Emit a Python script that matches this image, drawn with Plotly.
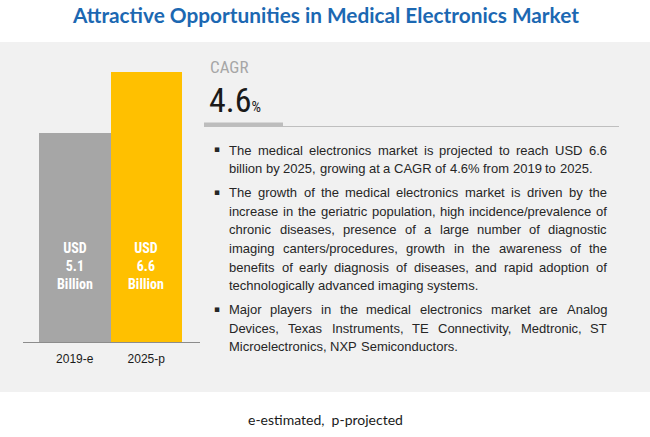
import plotly.graph_objects as go

# ---------------- data ----------------
categories = ["2019-e", "2025-p"]
values = [5.1, 6.6]
value_labels = ["USD<br>5.1<br>Billion", "USD<br>6.6<br>Billion"]
bar_colors = ["#A6A6A6", "#FFC000"]
cagr_value = "4.6"

title_text = "Attractive Opportunities in Medical Electronics Market"
footer_text = "e-estimated,  p-projected"

paragraphs = [
    ["The medical electronics market is projected to reach USD 6.6",
     "billion by 2025, growing at a CAGR of 4.6% from 2019 to 2025."],
    ["The growth of the medical electronics market is driven by the",
     "increase in the geriatric population, high incidence/prevalence of",
     "chronic diseases, presence of a large number of diagnostic",
     "imaging canters/procedures, growth in the awareness of the",
     "benefits of early diagnosis of diseases, and rapid adoption of",
     "technologically advanced imaging systems."],
    ["Major players in the medical electronics market are Analog",
     "Devices, Texas Instruments, TE Connectivity, Medtronic, ST",
     "Microelectronics, NXP Semiconductors."],
]

# ---------------- layout helpers ----------------
W, H = 650, 437


def px(x):
    return x / W


def py(y):
    return 1 - y / H


# Arial / Liberation Sans advance widths (units of 1/1000 em)
AW = {' ': 278, '.': 278, ',': 278, '/': 278, '-': 333, '%': 889}
for c in "0123456789":
    AW[c] = 556
lower = dict(a=556, b=556, c=500, d=556, e=556, f=278, g=556, h=556, i=222, j=222,
             k=500, l=222, m=833, n=556, o=556, p=556, q=556, r=333, s=500, t=278,
             u=556, v=500, w=722, x=500, y=500, z=500)
upper = dict(A=667, B=667, C=722, D=722, E=667, F=611, G=778, H=722, I=278, J=500,
             K=667, L=556, M=833, N=722, O=778, P=667, Q=778, R=722, S=667, T=611,
             U=722, V=667, W=944, X=667, Y=667, Z=611)
AW.update(lower)
AW.update(upper)


def text_w(s, size):
    return sum(AW.get(ch, 556) for ch in s) * size / 1000.0


BODY_FONT = "Liberation Sans, Arial, sans-serif"
BODY_SIZE = 13
BODY_COLOR = "#262626"
TEXT_X0, TEXT_X1 = 227.3, 605.0
BULLET_X = 216.5
LINE_H = 18.6
PARA_GAP = 24.0
Y0 = 150.0

annotations = []

# Title
annotations.append(dict(text="<b>" + title_text + "</b>", x=px(325), y=py(14),
                        xref="paper", yref="paper", showarrow=False,
                        xanchor="center", yanchor="middle",
                        font=dict(family="Lato, Open Sans, sans-serif", size=20.8, color="#1C68B2")))

# Footer
annotations.append(dict(text=footer_text, x=px(325), y=py(419),
                        xref="paper", yref="paper", showarrow=False,
                        xanchor="center", yanchor="middle",
                        font=dict(family="Lato, Open Sans, sans-serif", size=14, color="#1a1a1a")))

# CAGR heading and value
NARROW = "Liberation Sans Narrow, Roboto Condensed, Arial Narrow, Roboto, sans-serif"
annotations.append(dict(text="CAGR", x=px(208), y=py(67), xref="paper", yref="paper",
                        showarrow=False, xanchor="left", yanchor="middle",
                        font=dict(family=NARROW, size=17, color="#A6A6A6")))
annotations.append(dict(text=cagr_value + "<span style='font-size:15px'>%</span>",
                        x=px(207.5), y=py(100.5), xref="paper", yref="paper",
                        showarrow=False, xanchor="left", yanchor="middle",
                        font=dict(family=NARROW, size=34, color="#1a1a1a")))

# Justified bullet text
y = Y0
for p_i, lines in enumerate(paragraphs):
    if p_i > 0:
        y += PARA_GAP - LINE_H
    for l_i, line in enumerate(lines):
        if l_i == 0:
            annotations.append(dict(text="\u25aa", x=px(BULLET_X), y=py(y - 0.5),
                                    xref="paper", yref="paper", showarrow=False,
                                    xanchor="center", yanchor="middle",
                                    font=dict(family="DejaVu Sans", size=9, color=BODY_COLOR)))
        words = line.split(" ")
        last = (l_i == len(lines) - 1)
        widths = [text_w(w_, BODY_SIZE) for w_ in words]
        space = text_w(" ", BODY_SIZE)
        if not last and len(words) > 1:
            space = (TEXT_X1 - TEXT_X0 - sum(widths)) / (len(words) - 1)
        x = TEXT_X0
        for w_, ww in zip(words, widths):
            annotations.append(dict(text=w_, x=px(x), y=py(y), xref="paper", yref="paper",
                                    showarrow=False, xanchor="left", yanchor="middle",
                                    font=dict(family=BODY_FONT, size=BODY_SIZE, color=BODY_COLOR)))
            x += ww + space
        y += LINE_H

# Bar value labels (inside bars)
label_y = 1.86
for cat, lab in zip(categories, value_labels):
    annotations.append(dict(text="<b>" + lab + "</b>", x=cat, y=label_y, xref="x", yref="y",
                            showarrow=False, xanchor="center", yanchor="middle",
                            font=dict(family=NARROW, size=14, color="white")))

shapes = [
    # gray panel
    dict(type="rect", xref="paper", yref="paper", x0=0, x1=1, y0=py(392), y1=py(42),
         fillcolor="#F1F1F1", line=dict(width=0), layer="below"),
    # axis baseline
    dict(type="line", xref="paper", yref="paper", x0=px(23), x1=px(200), y0=py(342.5), y1=py(342.5),
         line=dict(color="#8C8C8C", width=1)),
    # CAGR underline
    dict(type="line", xref="paper", yref="paper", x0=px(204), x1=px(619), y0=py(126.5), y1=py(126.5),
         line=dict(color="#BFBFBF", width=1)),
    dict(type="line", xref="paper", yref="paper", x0=px(204), x1=px(283), y0=py(124.5), y1=py(124.5),
         line=dict(color="#BDBDBD", width=4)),
]

fig = go.Figure(go.Bar(x=categories, y=values, marker=dict(color=bar_colors, line=dict(width=0)),
                       hoverinfo="skip"))

bottom_px, top_px, top_val_px = 342.5, 60.0, 72.0
yr_max = max(values) * (bottom_px - top_px) / (bottom_px - top_val_px)

fig.update_layout(
    width=W, height=H,
    margin=dict(l=0, r=0, t=0, b=0),
    paper_bgcolor="white",
    plot_bgcolor="rgba(0,0,0,0)",
    showlegend=False,
    bargap=0,
    xaxis=dict(domain=[px(39), px(182)], range=[-0.5, 1.5], showgrid=False, zeroline=False,
               showline=False, ticks="", ticklabelstandoff=7,
               tickfont=dict(family=BODY_FONT, size=12, color="#1a1a1a"),
               fixedrange=True),
    yaxis=dict(domain=[py(bottom_px), py(top_px)], range=[0, yr_max], visible=False, fixedrange=True),
    annotations=annotations,
    shapes=shapes,
)

fig.write_html("out.html", config={"displayModeBar": False},
               post_script="document.body.style.margin='0';document.body.style.overflow='hidden';")
